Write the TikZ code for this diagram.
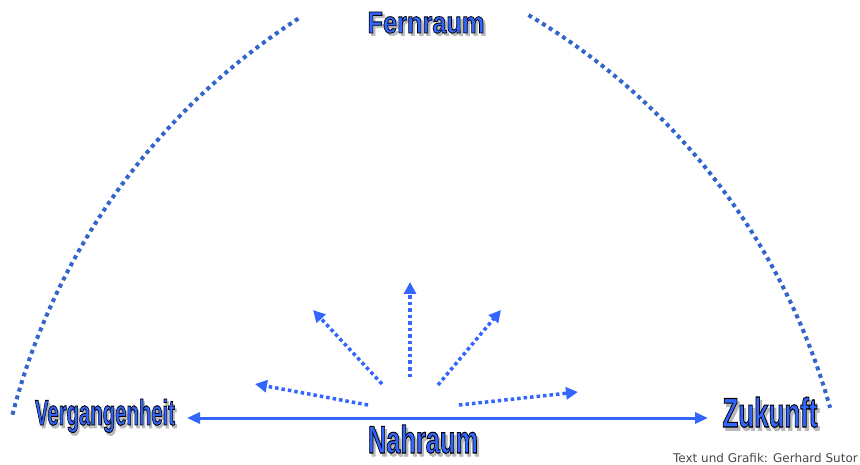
\documentclass[tikz,border=0pt]{standalone}
\usepackage{fontspec}
\setmainfont{Liberation Sans}
\newfontfamily\credfont{DejaVu Sans}
\font\wordfont="Liberation Sans/B:embolden=2.6" at 30pt
\usetikzlibrary{arrows.meta}
\definecolor{wordblue}{RGB}{51,102,255}
\definecolor{arcblue}{RGB}{51,102,204}
\newcommand{\wordart}[3]{\resizebox{#1}{#2}{\wordfont\makebox[0pt][l]{\kern0.09em\raisebox{-0.08em}{\color{gray!55}#3}}\special{pdf:bcolor [0.2 0.4 1] [0 0 0]}#3\special{pdf:ecolor}}}
\begin{document}
\begin{tikzpicture}[x=1pt,y=1pt,
  arcline/.style={arcblue, line width=4pt, dash pattern=on 4pt off 4pt},
  fanarrow/.style={wordblue, line width=3.5pt, dash pattern=on 3.5pt off 3pt, -{Triangle[length=12pt,width=12pt]}},
  mainarrow/.style={wordblue, line width=3pt, {Triangle[length=13pt,width=11pt]}-{Triangle[length=13pt,width=11pt]}}]
\useasboundingbox (0,0) rectangle (860,464);
\node[inner sep=0, anchor=base] (fern) at (426,431) {\wordart{117pt}{21pt}{Fernraum}};
\node[inner sep=0, anchor=base] (verg) at (105,39) {\wordart{140pt}{26pt}{Vergangenheit}};
\node[inner sep=0, anchor=base] (zuk) at (770,37) {\wordart{95pt}{30pt}{Zukunft}};
\node[inner sep=0, anchor=base] (nah) at (423,11) {\wordart{110pt}{28pt}{Nahraum}};
\node[inner sep=0, anchor=base east, text=black!72, font=\credfont\fontsize{12}{14}\selectfont] (cred) at (858,2) {Text und Grafik: Gerhard Sutor};
\draw[arcline] (663,-119) ++(165.5:672) arc[start angle=165.5, end angle=122.7, radius=672];
\draw[arcline] (189,-124) ++(59.35:666) arc[start angle=59.35, end angle=15.7, radius=666];
\coordinate (pl) at (187,46);
\coordinate (pr) at (708,46);
\draw[mainarrow] (pl) -- (pr);
\coordinate (o1) at (368,59); \coordinate (t1) at (255,80);
\coordinate (o2) at (382,80); \coordinate (t2) at (313,154);
\coordinate (o3) at (410,87); \coordinate (t3) at (410,182);
\coordinate (o4) at (438,79); \coordinate (t4) at (501,154);
\coordinate (o5) at (459,59); \coordinate (t5) at (578,72);
\foreach \i in {1,...,5}
  \draw[fanarrow] (o\i) -- (t\i);
\end{tikzpicture}
\end{document}
